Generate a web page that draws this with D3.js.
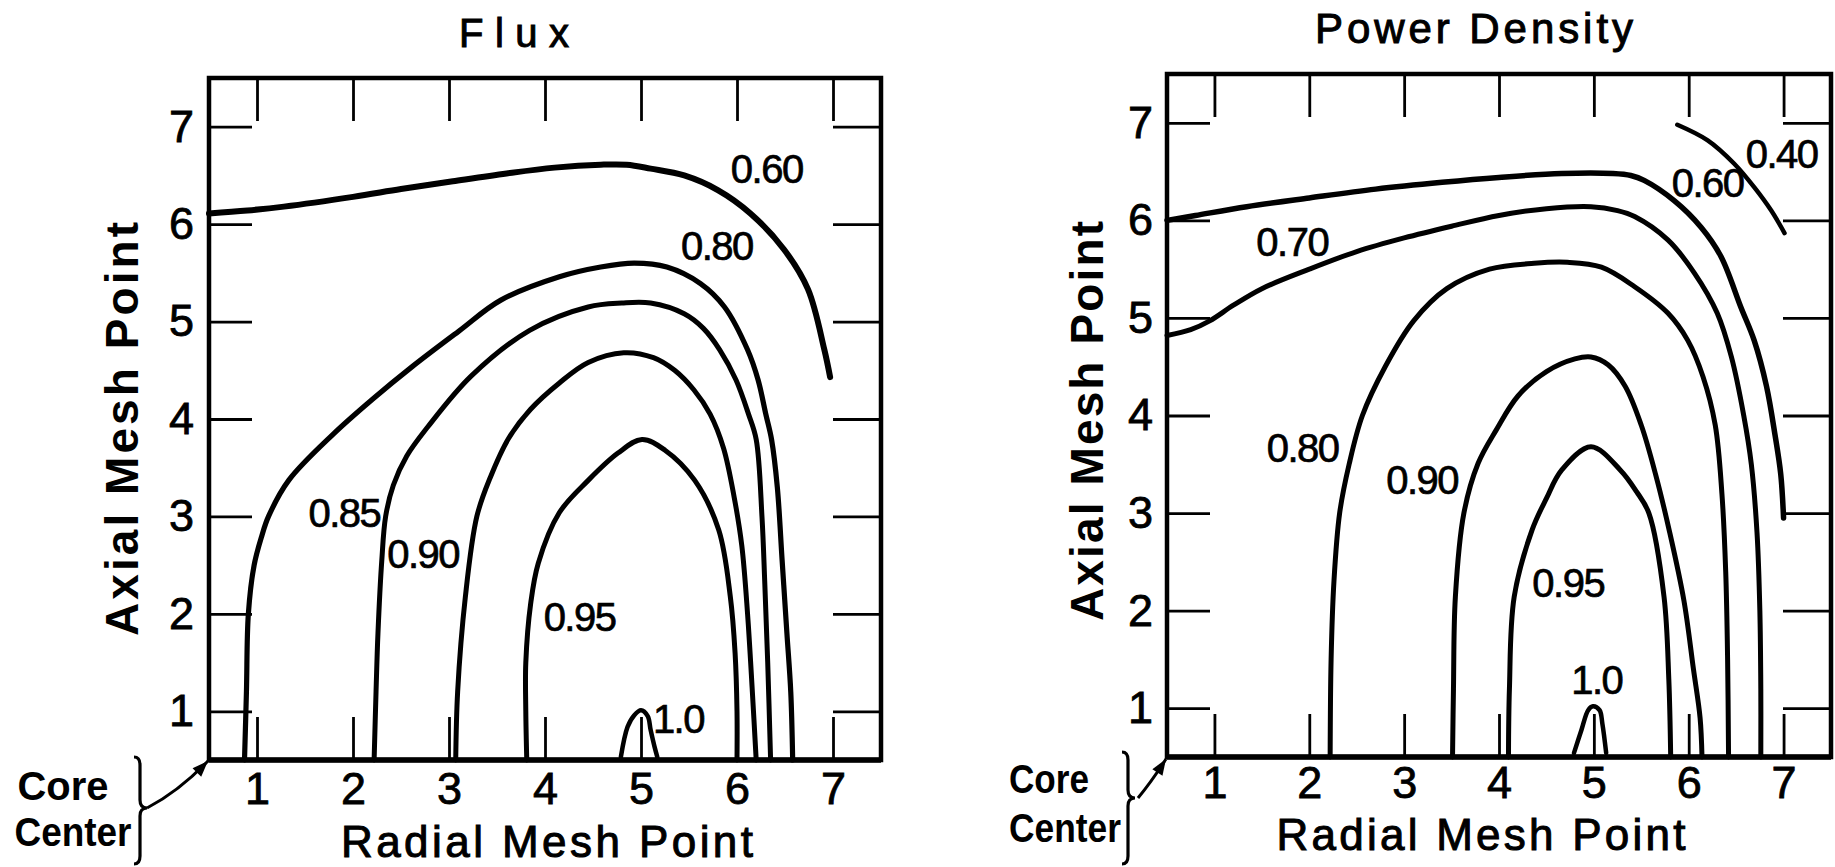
<!DOCTYPE html>
<html>
<head>
<meta charset="utf-8">
<script src="https://cdnjs.cloudflare.com/ajax/libs/d3/7.8.5/d3.min.js"></script>
<style>
  body { margin: 0; background: #fff; }
  svg { display: block; }
  text { fill: #000; font-family: "Liberation Sans", Arial, sans-serif; }
</style>
</head>
<body>
<svg id="chart"></svg>
<script>
// mesh point ticks (both axes, both panels)
const meshTicks = [1, 2, 3, 4, 5, 6, 7];

// ---- Flux contours (radial, axial) ----
const fluxLevels = ["0.60", "0.80", "0.85", "0.90", "0.95", "1.0"];
const flux060 = [[0.5,6.11],[0.9,6.14],[1.28,6.18],[2.0,6.28],[2.5,6.36],[3.04,6.44],[3.6,6.52],[4.1,6.58],[4.58,6.61],[4.85,6.61],[5.1,6.57],[5.45,6.5],[5.8,6.35],[6.14,6.11],[6.49,5.74],[6.74,5.33],[6.91,4.71],[6.97,4.43]];
const flux080 = [[0.87,0.5],[0.89,1.2],[0.91,2.0],[0.97,2.5],[1.05,2.8],[1.12,3.0],[1.33,3.37],[1.8,3.85],[2.2,4.2],[2.62,4.54],[3.1,4.9],[3.54,5.22],[4.15,5.46],[4.58,5.56],[4.93,5.6],[5.27,5.56],[5.62,5.39],[5.87,5.15],[6.11,4.71],[6.22,4.4],[6.3,4.05],[6.36,3.79],[6.42,3.3],[6.47,2.55],[6.52,1.8],[6.56,1.2],[6.58,0.5]];
const flux085 = [[2.22,0.5],[2.24,1.2],[2.26,1.8],[2.3,2.55],[2.34,3.0],[2.42,3.32],[2.56,3.62],[2.78,3.92],[3.23,4.44],[3.84,4.91],[4.45,5.15],[4.8,5.19],[5.1,5.19],[5.45,5.08],[5.65,4.93],[5.82,4.71],[5.99,4.4],[6.12,4.05],[6.2,3.79],[6.26,3.0],[6.29,2.3],[6.32,1.5],[6.35,0.5]];
const flux090 = [[3.07,0.5],[3.09,1.2],[3.17,2.17],[3.29,3.0],[3.43,3.4],[3.62,3.8],[3.85,4.1],[4.15,4.37],[4.45,4.58],[4.82,4.68],[5.13,4.63],[5.35,4.5],[5.55,4.3],[5.72,4.05],[5.86,3.7],[5.97,3.2],[6.05,2.7],[6.11,2.0],[6.16,1.2],[6.2,0.5]];
const flux095 = [[3.81,0.5],[3.8,1.0],[3.8,1.5],[3.85,2.1],[3.93,2.52],[4.15,3.04],[4.45,3.37],[4.76,3.65],[5.01,3.79],[5.25,3.68],[5.56,3.37],[5.81,2.86],[5.93,2.18],[5.98,1.6],[6.0,1.0],[6.0,0.5]];
const flux100 = [[4.79,0.53],[4.86,0.84],[4.93,0.96],[5.0,1.01],[5.07,0.95],[5.1,0.81],[5.14,0.64],[5.17,0.53]];
const fluxLabelAt = [[6.31,6.57],[5.79,5.78],[1.91,3.04],[2.73,2.62],[4.36,1.97],[5.39,0.93]];

// ---- Power density contours ----
const powerLevels = ["0.40", "0.60", "0.70", "0.80", "0.90", "0.95", "1.0"];
const power040 = [[5.88,6.98],[6.2,6.82],[6.48,6.58],[6.69,6.34],[6.87,6.1],[7.01,5.87]];
const power060 = [[0.5,6.0],[0.8,6.05],[1.34,6.14],[2.0,6.23],[2.7,6.32],[3.4,6.39],[4.0,6.44],[4.66,6.48],[5.2,6.48],[5.39,6.46],[5.53,6.41],[5.85,6.2],[6.13,5.93],[6.34,5.63],[6.55,5.11],[6.69,4.77],[6.82,4.3],[6.91,3.8],[6.97,3.4],[7.0,2.95]];
const power070 = [[0.5,4.82],[0.75,4.88],[0.95,4.97],[1.2,5.13],[1.5,5.3],[2.0,5.5],[2.5,5.68],[3.0,5.82],[3.5,5.94],[4.0,6.05],[4.5,6.12],[4.97,6.14],[5.25,6.1],[5.43,6.04],[5.78,5.8],[6.06,5.46],[6.3,5.05],[6.45,4.6],[6.58,4.0],[6.66,3.5],[6.72,2.8],[6.75,2.0],[6.76,1.2],[6.76,0.5]];
const power080 = [[2.22,0.5],[2.23,1.5],[2.26,2.3],[2.32,3.0],[2.42,3.5],[2.56,4.0],[2.8,4.5],[3.1,4.97],[3.45,5.3],[3.9,5.5],[4.37,5.56],[4.72,5.57],[5.08,5.52],[5.43,5.32],[5.78,5.05],[5.99,4.77],[6.15,4.4],[6.28,3.9],[6.35,3.2],[6.39,2.4],[6.41,1.5],[6.42,0.5]];
const power090 = [[3.51,0.5],[3.52,1.2],[3.54,2.14],[3.63,3.0],[3.78,3.51],[3.97,3.85],[4.2,4.2],[4.5,4.45],[4.8,4.58],[4.97,4.6],[5.15,4.52],[5.33,4.3],[5.5,3.9],[5.65,3.4],[5.8,2.8],[5.95,2.1],[6.05,1.4],[6.12,0.9],[6.14,0.5]];
const power095 = [[4.1,0.5],[4.11,1.2],[4.16,2.14],[4.35,2.83],[4.5,3.15],[4.66,3.44],[4.97,3.68],[5.28,3.44],[5.45,3.22],[5.58,3.0],[5.74,2.14],[5.79,1.3],[5.81,0.5]];
const power100 = [[4.79,0.54],[4.87,0.78],[4.94,0.98],[4.99,1.02],[5.06,0.98],[5.09,0.84],[5.13,0.54]];
const powerLabelAt = [[6.98,6.68],[6.2,6.39],[1.82,5.78],[1.93,3.67],[3.19,3.34],[4.73,2.29],[5.03,1.29]];

const W = 1835, H = 867;
const svg = d3.select("#chart").attr("width", W).attr("height", H);
svg.append("rect").attr("width", W).attr("height", H).attr("fill", "#fff");

const narrow = "Liberation Sans Narrow, Liberation Sans, sans-serif";

const panels = [
  { title: "Flux", box: [209, 881, 78, 760], lines: [flux060, flux080, flux085, flux090, flux095, flux100],
    levels: fluxLevels, labelAt: fluxLabelAt, widths: [6, 5.2, 5, 5, 5, 4.5],
    titleAt: [514, 47, 40, 110], xlab: [547, 857, 412], ylab: [138, 429, 414],
    core: [63, 800, 91, 73, 846, 117], brace: [140, 757, 864, 808], arrow: [147, 808, 178, 792, 208, 761],
    pad: [12, 15] },
  { title: "Power Density", box: [1167, 1831, 74, 757], lines: [power040, power060, power070, power080, power090, power095, power100],
    levels: powerLevels, labelAt: powerLabelAt, widths: [4.5, 5.5, 5, 5, 5, 5, 4.5],
    titleAt: [1474, 43, 42, 318], xlab: [1481, 850, 409], ylab: [1103, 421, 400],
    core: [1049, 793, 80, 1065, 842, 112], brace: [1128, 752, 864, 798], arrow: [1138, 798, 1152, 781, 1166, 759],
    pad: [9, 14] }
];

panels.forEach(p => {
  const [x0, x1, y0, y1] = p.box;
  const x = d3.scaleLinear().domain([0.5, 7.5]).range([x0, x1]);
  const y = d3.scaleLinear().domain([0.5, 7.5]).range([y1, y0]);
  const g = svg.append("g");

  // ticks on all four sides, pointing inward
  const styleAxis = a => {
    a.select(".domain").remove();
    a.selectAll(".tick line").attr("stroke", "#000").attr("stroke-width", 2.8);
    a.attr("font-size", 45).attr("font-family", "Liberation Sans, Arial, sans-serif");
    a.selectAll(".tick text").attr("stroke", "#000").attr("stroke-width", 0.8);
  };
  g.append("g").attr("transform", `translate(0,${y1})`)
    .call(d3.axisBottom(x).tickValues(meshTicks).tickSize(-43).tickPadding(p.pad[0]).tickFormat(d3.format("d")))
    .call(styleAxis);
  g.append("g").attr("transform", `translate(0,${y0})`)
    .call(d3.axisTop(x).tickValues(meshTicks).tickSize(-43).tickFormat(""))
    .call(styleAxis);
  g.append("g").attr("transform", `translate(${x0},0)`)
    .call(d3.axisLeft(y).tickValues(meshTicks).tickSize(-43).tickPadding(p.pad[1]).tickFormat(d3.format("d")))
    .call(styleAxis);
  g.append("g").attr("transform", `translate(${x1},0)`)
    .call(d3.axisRight(y).tickValues(meshTicks).tickSize(-48).tickFormat(""))
    .call(styleAxis);

  // frame
  g.append("rect").attr("x", x0).attr("y", y0).attr("width", x1 - x0).attr("height", y1 - y0)
    .attr("fill", "none").attr("stroke", "#000").attr("stroke-width", 4.5);
  g.append("line").attr("x1", x0).attr("x2", x1).attr("y1", y1).attr("y2", y1)
    .attr("stroke", "#000").attr("stroke-width", 5.5);

  // contour lines
  const line = d3.line().x(d => x(d[0])).y(d => y(d[1])).curve(d3.curveCatmullRom.alpha(0.5));
  g.selectAll("path.contour").data(p.lines).join("path")
    .attr("class", "contour")
    .attr("d", line)
    .attr("fill", "none").attr("stroke", "#000")
    .attr("stroke-width", (d, i) => p.widths[i])
    .attr("stroke-linecap", "round").attr("stroke-linejoin", "round");

  // contour labels
  g.selectAll("text.lvl").data(p.levels).join("text")
    .attr("class", "lvl")
    .attr("x", (d, i) => x(p.labelAt[i][0]))
    .attr("y", (d, i) => y(p.labelAt[i][1]))
    .attr("dy", "0.36em")
    .attr("text-anchor", "middle")
    .attr("font-size", 40)
    .attr("letter-spacing", -1.5)
    .attr("stroke", "#000").attr("stroke-width", 0.7)
    .text(d => d);

  // titles
  const [tx, ty, tfs, tlen] = p.titleAt;
  svg.append("text").attr("x", tx - tlen / 2).attr("y", ty)
    .attr("font-family", narrow)
    .attr("font-size", tfs).attr("textLength", tlen).attr("lengthAdjust", "spacing")
    .attr("stroke", "#000").attr("stroke-width", 1)
    .text(p.title);

  svg.append("text").attr("x", p.xlab[0] - p.xlab[2] / 2).attr("y", p.xlab[1])
    .attr("font-size", 44).attr("textLength", p.xlab[2]).attr("lengthAdjust", "spacing")
    .attr("stroke", "#000").attr("stroke-width", 1)
    .text("Radial Mesh Point");

  svg.append("text")
    .attr("transform", `translate(${p.ylab[0]},${p.ylab[1] + p.ylab[2] / 2}) rotate(-90)`)
    .attr("font-size", 46).attr("font-weight", "bold")
    .attr("textLength", p.ylab[2]).attr("lengthAdjust", "spacing")
    .text("Axial Mesh Point");

  // Core Center note with brace and arrow
  const c = p.core;
  svg.append("text").attr("x", c[0] - c[2] / 2).attr("y", c[1])
    .attr("font-family", narrow).attr("font-weight", "bold")
    .attr("font-size", 40).attr("textLength", c[2]).attr("lengthAdjust", "spacingAndGlyphs")
    .text("Core");
  svg.append("text").attr("x", c[3] - c[5] / 2).attr("y", c[4])
    .attr("font-family", narrow).attr("font-weight", "bold")
    .attr("font-size", 40).attr("textLength", c[5]).attr("lengthAdjust", "spacingAndGlyphs")
    .text("Center");

  const [bx, bt, bb, bm] = p.brace;
  const br = d3.path();
  br.moveTo(bx - 6, bt);
  br.quadraticCurveTo(bx, bt, bx, bt + 8);
  br.lineTo(bx, bm - 8);
  br.quadraticCurveTo(bx, bm, bx + 7, bm);
  br.quadraticCurveTo(bx, bm, bx, bm + 8);
  br.lineTo(bx, bb - 8);
  br.quadraticCurveTo(bx, bb, bx - 6, bb);
  svg.append("path").attr("d", br.toString()).attr("fill", "none")
    .attr("stroke", "#000").attr("stroke-width", 3.2);

  const a = p.arrow;
  const ar = d3.path();
  ar.moveTo(a[0], a[1]);
  ar.quadraticCurveTo(a[2], a[3], a[4], a[5]);
  svg.append("path").attr("d", ar.toString()).attr("fill", "none")
    .attr("stroke", "#000").attr("stroke-width", 3);
  const ang = Math.atan2(a[5] - a[3], a[4] - a[2]);
  const hl = 16, hw = 6;
  const head = [
    [a[4], a[5]],
    [a[4] - hl * Math.cos(ang) + hw * Math.sin(ang), a[5] - hl * Math.sin(ang) - hw * Math.cos(ang)],
    [a[4] - hl * Math.cos(ang) - hw * Math.sin(ang), a[5] - hl * Math.sin(ang) + hw * Math.cos(ang)]
  ];
  svg.append("path").attr("d", "M" + head.join("L") + "Z").attr("fill", "#000");
});
</script>
</body>
</html>
